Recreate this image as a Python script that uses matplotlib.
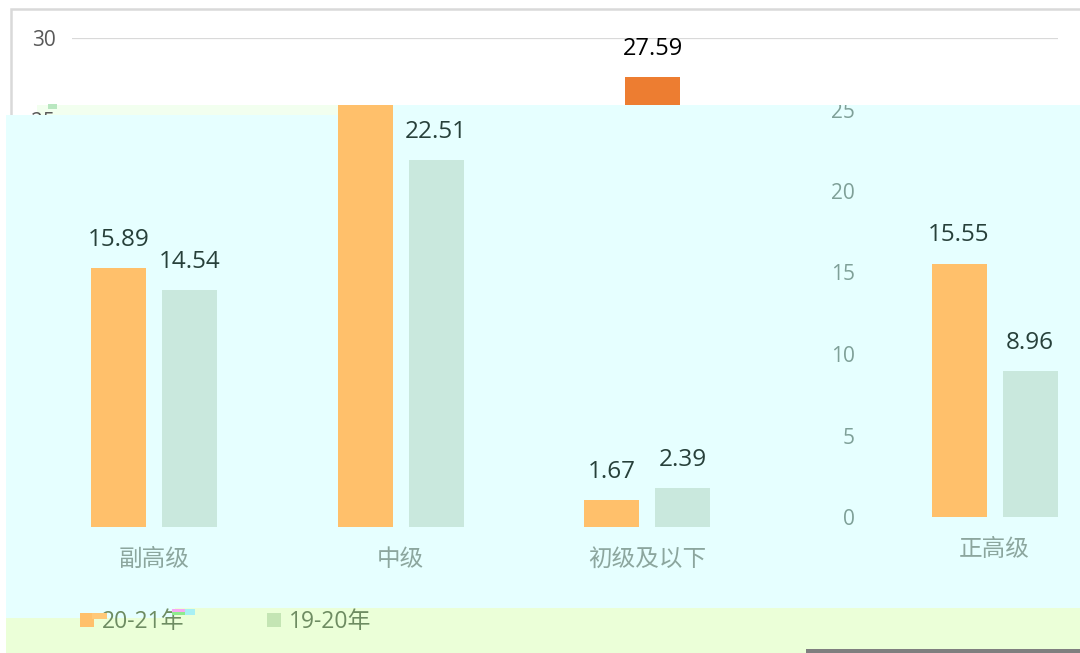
import matplotlib
matplotlib.use('Agg')
import matplotlib.pyplot as plt
from matplotlib.patches import Rectangle
import numpy as np

# ---------------- data ----------------
categories = ['副高级', '中级', '初级及以下', '正高级']
series_names = ['20-21年', '19-20年']
values_2021 = [15.89, 27.59, 1.67, 15.55]
values_1920 = [14.54, 22.51, 2.39, 8.96]
y_ticks_outer = [0, 5, 10, 15, 20, 25, 30]
y_ticks_inner = [0, 5, 10, 15, 20, 25]

# ---------------- styling ----------------
W, H, DPI = 1080, 653, 100
C_ORANGE = '#FFC06B'
C_GREEN = '#C9E8DD'
C_DARK_ORANGE = '#ED7D31'
C_CYAN = '#E6FFFF'
C_LIME = '#EBFFD8'
C_GRID = '#D9D9D9'
C_VAL = '#27403A'
C_TICK = '#7FA098'
C_CAT = '#8CA69E'
C_LEG = '#6E8C62'

NUM = ['Open Sans', 'DejaVu Sans']
CJK = ['Noto Sans CJK SC', 'DejaVu Sans']
MIX = ['Open Sans', 'Noto Sans CJK SC', 'DejaVu Sans']

fig = plt.figure(figsize=(W / DPI, H / DPI), dpi=DPI, facecolor='white')


def frect(x0, y0, x1, y1):
    return [x0 / W, 1 - y1 / H, (x1 - x0) / W, (y1 - y0) / H]


def fpatch(x0, y0, x1, y1, color, z, **kw):
    r = Rectangle((x0 / W, 1 - y1 / H), (x1 - x0) / W, (y1 - y0) / H,
                  transform=fig.transFigure, facecolor=color,
                  edgecolor=kw.pop('edgecolor', 'none'), zorder=z, **kw)
    fig.add_artist(r)
    return r


PX_PER_UNIT = (527 - 38) / 30.0
U = 246.5                 # pixels per category
BAR_W = 55 / U
OFF = 35.5 / U
x = np.arange(len(categories))


def clean(ax):
    ax.set_facecolor('none')
    for s in ax.spines.values():
        s.set_visible(False)


def label_bars(ax, xs, vals, color, size=17.5):
    for xi, v in zip(xs, vals):
        ax.annotate(f'{v:.2f}', xy=(xi, v), xytext=(0, 16),
                    textcoords='offset points', ha='center', va='baseline',
                    fontsize=size, color=color, family=NUM)


# outer frame
fpatch(11, 8.5, 1100, 700, 'none', 0.5, edgecolor=C_GRID, linewidth=1.8)
# faint strip above panel
fpatch(37, 105, 338, 115, '#F2FFEF', 0.8)

# ---------------- outer (background) layer ----------------
ax_out = fig.add_axes(frect(72, 38, 1058, 527), zorder=1)
clean(ax_out)
ax_out.set_xlim(-1.5, 2.5)
ax_out.set_ylim(0, 30)
ax_out.set_axisbelow(True)
ax_out.bar(x - OFF, values_2021, BAR_W, color=C_DARK_ORANGE)
ax_out.bar(x + OFF, values_1920, BAR_W, color='#A5A5A5')
label_bars(ax_out, x - OFF, values_2021, 'black', 17)
ax_out.set_yticks(y_ticks_outer)
ax_out.set_yticklabels([str(t) for t in y_ticks_outer], family=NUM)
ax_out.tick_params(axis='y', length=0, pad=12, labelsize=15, labelcolor='#595959')
ax_out.set_xticks([])
ax_out.yaxis.grid(True, color=C_GRID, linewidth=1.6)

# ---------------- glitched panel background ----------------
fpatch(6, 608, 1080, 653, C_LIME, 2)
fpatch(6, 115, 1080, 608, C_CYAN, 2.1)
fpatch(6, 608, 175, 618, C_CYAN, 2.1)
fpatch(338, 105, 1080, 115, C_CYAN, 2.1)

# ---------------- inner layer (first three categories) ----------------
ax_in = fig.add_axes(frect(31, 105, 1017, 527), zorder=3)
clean(ax_in)
ax_in.set_xlim(-0.5, 3.5)
ax_in.set_ylim(0, 422 / PX_PER_UNIT)
n = 3
ax_in.bar(x[:n] - OFF, values_2021[:n], BAR_W, color=C_ORANGE)
ax_in.bar(x[:n] + OFF, values_1920[:n], BAR_W, color=C_GREEN)
label_bars(ax_in, x[:n] - OFF, values_2021[:n], C_VAL)
label_bars(ax_in, x[:n] + OFF, values_1920[:n], C_VAL)
ax_in.set_yticks([])
ax_in.set_xticks(x[:n])
ax_in.set_xticklabels(categories[:n], family=CJK)
ax_in.tick_params(axis='x', length=0, pad=15, labelsize=17, labelcolor=C_CAT)

# ---------------- shifted piece (last category with its own axis) ----------------
ax4 = fig.add_axes(frect(870, 105, 1080, 517), zorder=3)
clean(ax4)
ax4.set_xlim(3 - (994.5 - 870) / U, 3 + (1080 - 994.5) / U)
ax4.set_ylim(0, 412 / PX_PER_UNIT)
ax4.bar(x[3:] - OFF, values_2021[3:], BAR_W, color=C_ORANGE)
ax4.bar(x[3:] + OFF, values_1920[3:], BAR_W, color=C_GREEN)
label_bars(ax4, x[3:] - OFF, values_2021[3:], C_VAL)
label_bars(ax4, x[3:] + OFF, values_1920[3:], C_VAL)
ax4.set_yticks(y_ticks_inner)
ax4.set_yticklabels([str(t) for t in y_ticks_inner], family=NUM)
ax4.tick_params(axis='y', length=0, pad=11, labelsize=15, labelcolor=C_TICK)
ax4.set_xticks(x[3:])
ax4.set_xticklabels(categories[3:], family=CJK)
ax4.tick_params(axis='x', length=0, pad=15, labelsize=17, labelcolor=C_CAT)

# white cut above the panel edge
fpatch(815, 88, 870, 105, 'white', 3.5)

# ---------------- legend ----------------
handles = [Rectangle((0, 0), 1, 1, facecolor=C_ORANGE),
           Rectangle((0, 0), 1, 1, facecolor='#C4E5B4')]
leg = fig.legend(handles, series_names, ncol=2, loc='center left',
                 bbox_to_anchor=(80 / W, 1 - 622 / H), frameon=False,
                 prop={'family': MIX, 'size': 16.5}, labelcolor=C_LEG,
                 handlelength=0.61, handleheight=0.61, handletextpad=0.35,
                 columnspacing=3.6, borderpad=0, borderaxespad=0)
leg.set_zorder(4)

# small glitch fragments
fpatch(92, 613, 107, 619, '#FFC878', 4.5)
fpatch(172, 609, 185, 612, '#F6A8F2', 4.5)
fpatch(172, 612, 185, 615, '#8EEB8E', 4.5)
fpatch(185, 609, 195, 615, '#A8F0F4', 4.5)
fpatch(48, 104, 57, 109, '#B9E7C0', 4.5)
fpatch(806, 649, 1080, 653, '#7F7F7F', 5)

fig.savefig('out.png', dpi=DPI, facecolor='white')
